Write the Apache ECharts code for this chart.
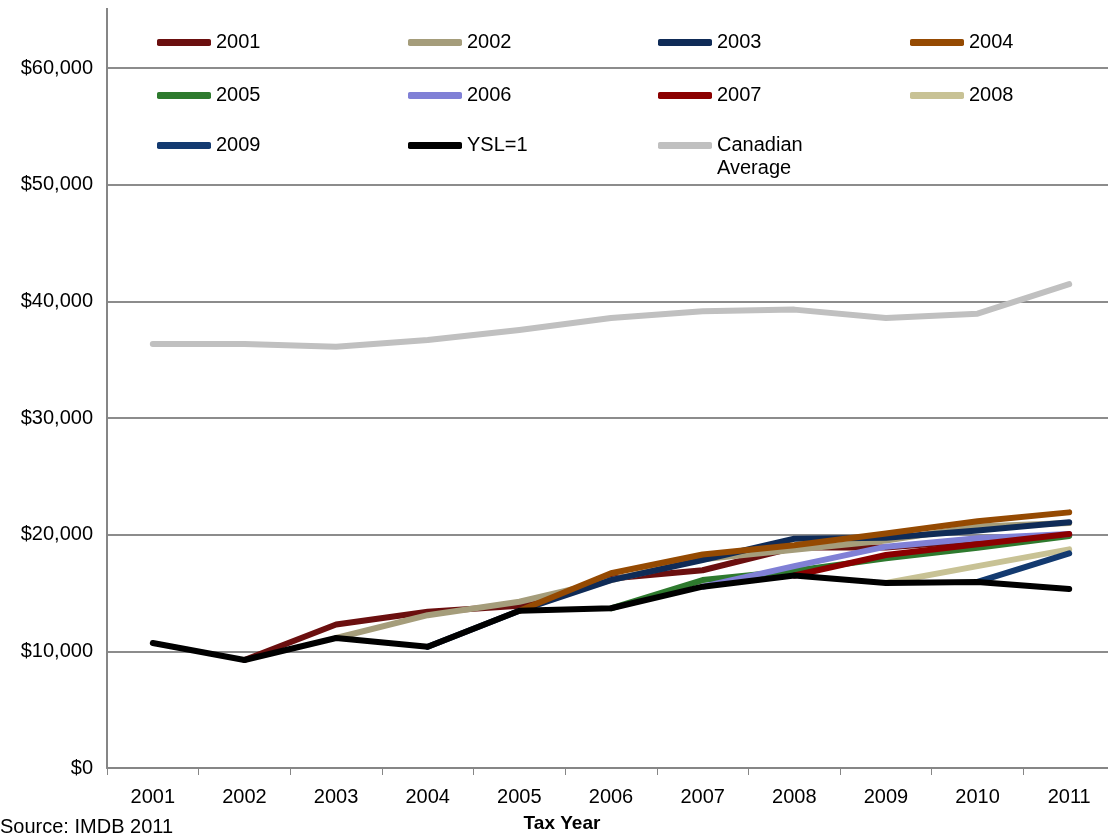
<!DOCTYPE html>
<html>
<head>
<meta charset="utf-8">
<script src="https://cdn.jsdelivr.net/npm/echarts@6/dist/echarts.min.js"></script>
<style>
  html, body { margin: 0; padding: 0; background: #fff; }
  #chart { width: 1108px; height: 836px; }
</style>
</head>
<body>
<div id="chart"></div>
<script>
// Tax years on the horizontal axis
const taxYears = ['2001','2002','2003','2004','2005','2006','2007','2008','2009','2010','2011'];

// Median earnings by cohort (year of leaving), starting the year after
const cohort2001 = [null, 9260, 12300, 13400, 13900, 16250, 16950, 18900, 18900, 19500, 20000];
const cohort2002 = [null, null, 11140, 13100, 14250, 16100, 17900, 18700, 19500, 20700, 21000];
const cohort2003 = [null, null, null, 10390, 13480, 16100, 17830, 19650, 19740, 20350, 21060];
const cohort2004 = [null, null, null, null, 13480, 16690, 18300, 19100, 20100, 21150, 21910];
const cohort2005 = [null, null, null, null, null, 13690, 16110, 16900, 17970, 18880, 19890];
const cohort2006 = [null, null, null, null, null, null, 15540, 17300, 18970, 19690, 20060];
const cohort2007 = [null, null, null, null, null, null, null, 16500, 18260, 19170, 20060];
const cohort2008 = [null, null, null, null, null, null, null, null, 15860, 17300, 18740];
const cohort2009 = [null, null, null, null, null, null, null, null, null, 15950, 18400];
const yslOne     = [10710, 9260, 11140, 10390, 13480, 13690, 15540, 16500, 15860, 15950, 15340];
const canadianAverage = [36340, 36340, 36110, 36680, 37540, 38570, 39140, 39290, 38570, 38940, 41480];

const seriesNames = ['2001','2002','2003','2004','2005','2006','2007','2008','2009','YSL=1','Canadian Average'];
const seriesData = [cohort2001, cohort2002, cohort2003, cohort2004, cohort2005, cohort2006,
                    cohort2007, cohort2008, cohort2009, yslOne, canadianAverage];
const seriesColors = ['#6b0f0f','#a59d7b','#0f2b57','#954a02','#2e7a2e','#8080d6',
                      '#8b0000','#c8c295','#133a70','#000000','#c0c0c0'];

// Axis ticks
const yMin = 0, yMax = 60000, yStep = 10000;

const FONT = 'Liberation Sans, Arial, sans-serif';

// Legend grid: 4 columns x 3 rows
const legendCols = [157, 408, 658, 910];
const legendRows = [30, 83, 133];

const legends = seriesNames.map((name, i) => ({
  data: [name],
  left: legendCols[i % 4],
  top: legendRows[Math.floor(i / 4)],
  itemWidth: 54,
  itemHeight: 7,
  icon: 'roundRect',
  itemGap: 0,
  padding: 0,
  selectedMode: false,
  // the second word of the long label is set on its own line below
  formatter: n => n === 'Canadian Average' ? 'Canadian' : n,
  textStyle: { fontFamily: FONT, fontSize: 20, color: '#000', lineHeight: 25 }
}));

const chart = echarts.init(document.getElementById('chart'), null, { renderer: 'canvas' });

chart.setOption({
  animation: false,
  backgroundColor: '#fff',
  grid: { left: 107, top: 68, width: 1008, height: 700, outerBoundsMode: 'none', containLabel: false },
  legend: legends,
  xAxis: {
    type: 'category',
    data: taxYears,
    boundaryGap: true,
    name: 'Tax Year',
    nameLocation: 'middle',
    nameGap: 46,
    nameTextStyle: { fontFamily: FONT, fontSize: 19, fontWeight: 'bold', color: '#000', padding: [0, 98, 0, 0] },
    axisLine: { lineStyle: { color: '#868686', width: 2 } },
    axisTick: { show: true, length: 7, lineStyle: { color: '#868686', width: 1 } },
    axisLabel: { fontFamily: FONT, fontSize: 20, color: '#000', margin: 19 },
    splitLine: { show: false }
  },
  yAxis: {
    type: 'value',
    min: yMin,
    max: yMax,
    interval: yStep,
    axisLine: { show: true, lineStyle: { color: '#868686', width: 2 } },
    axisTick: { show: false },
    axisLabel: {
      fontFamily: FONT, fontSize: 20, color: '#000', margin: 14,
      formatter: v => '$' + v.toLocaleString('en-US')
    },
    splitLine: { show: true, lineStyle: { color: '#8c8c8c', width: 2 } }
  },
  graphic: [
    // y-axis line continues above the top gridline
    { type: 'line', shape: { x1: 107, y1: 8, x2: 107, y2: 68 }, style: { stroke: '#868686', lineWidth: 2 }, z: 1 },
    { type: 'text', left: 717, top: 158, style: { text: 'Average', font: '20px ' + FONT, fill: '#000' } },
    { type: 'text', left: 0, top: 817, style: { text: 'Source: IMDB 2011', font: '20px ' + FONT, fill: '#000' } }
  ],
  series: seriesNames.map((name, i) => ({
    name: name,
    type: 'line',
    data: seriesData[i],
    showSymbol: false,
    symbol: 'none',
    color: seriesColors[i],
    lineStyle: { width: 6, color: seriesColors[i], cap: 'round', join: 'round' },
    z: 2 + i
  }))
});
</script>
</body>
</html>
